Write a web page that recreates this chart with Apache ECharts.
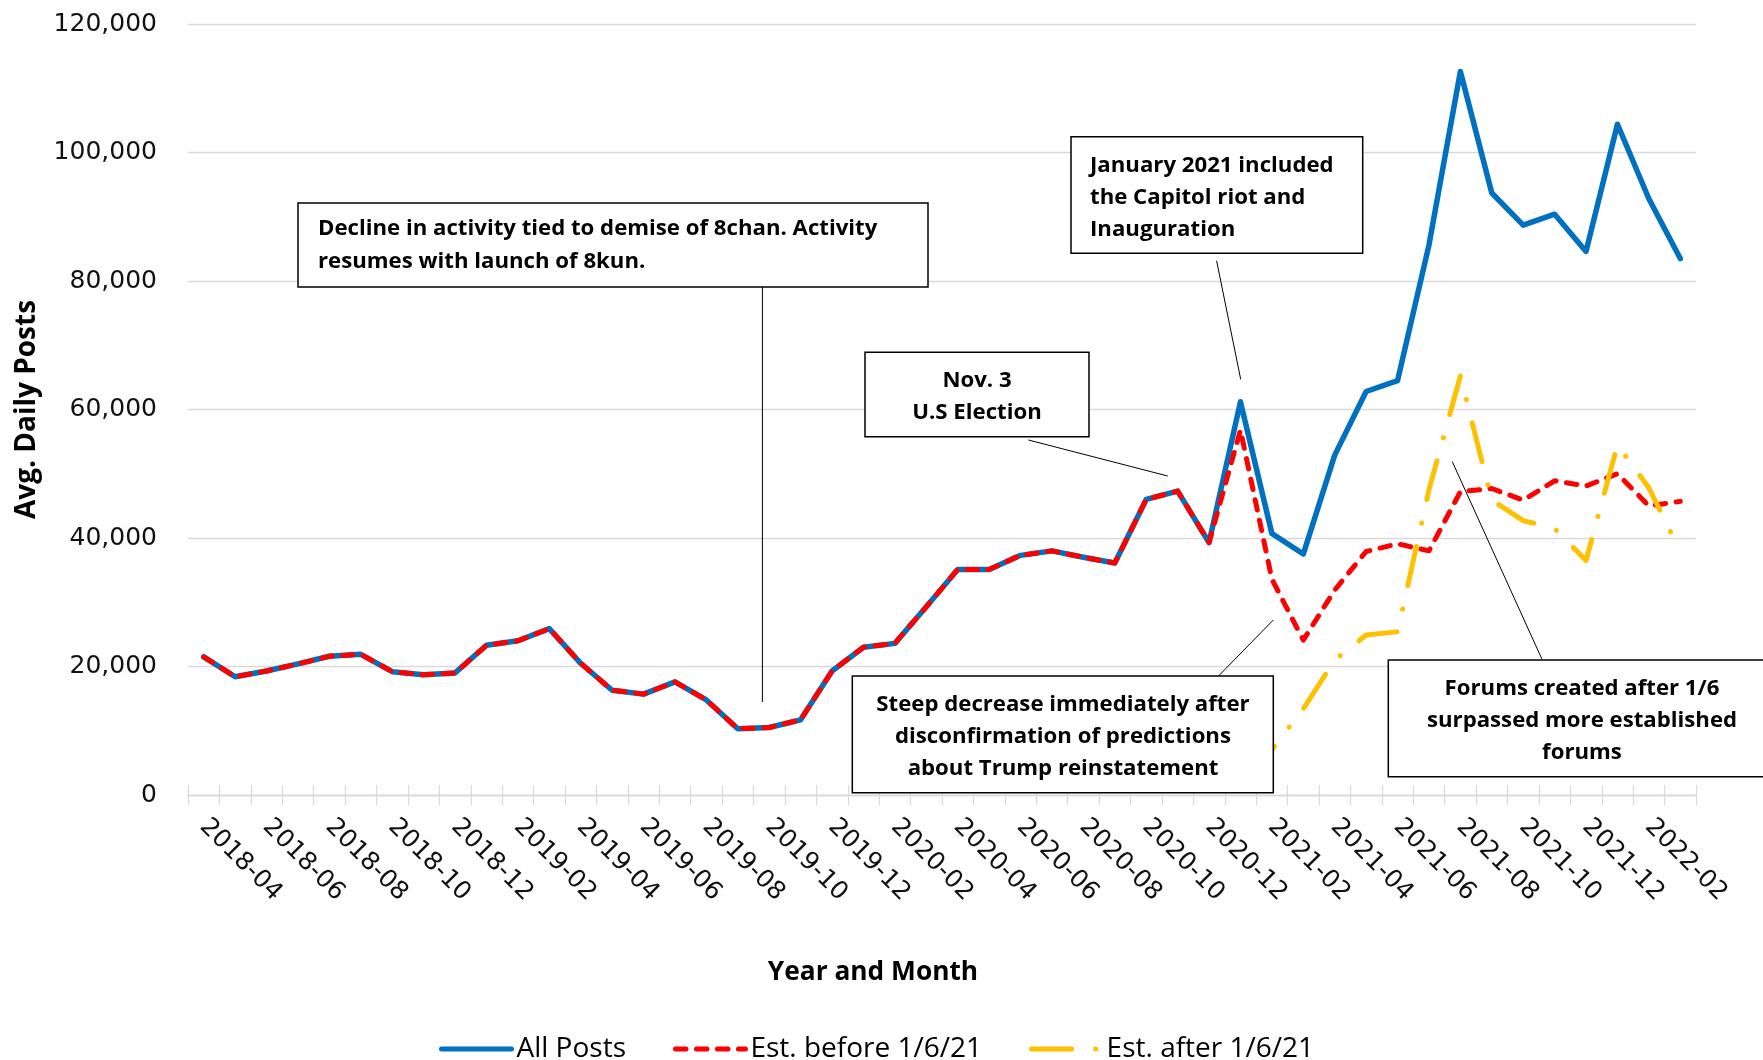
<!DOCTYPE html>
<html>
<head>
<meta charset="utf-8">
<title>Avg. Daily Posts</title>
<script src="https://cdn.jsdelivr.net/npm/echarts@6/dist/echarts.min.js"></script>
<style>
  html, body { margin: 0; padding: 0; background: #fff; }
  #chart { width: 1763px; height: 1060px; }
</style>
</head>
<body>
<div id="chart"></div>
<script>
// months on the category axis (labels shown every other month)
var months = [
  '2018-04', '2018-05', '2018-06', '2018-07', '2018-08', '2018-09', '2018-10', '2018-11', '2018-12',
  '2019-01', '2019-02', '2019-03', '2019-04', '2019-05', '2019-06', '2019-07', '2019-08', '2019-09',
  '2019-10', '2019-11', '2019-12', '2020-01', '2020-02', '2020-03', '2020-04', '2020-05', '2020-06',
  '2020-07', '2020-08', '2020-09', '2020-10', '2020-11', '2020-12', '2021-01', '2021-02', '2021-03',
  '2021-04', '2021-05', '2021-06', '2021-07', '2021-08', '2021-09', '2021-10', '2021-11', '2021-12',
  '2022-01', '2022-02', '2022-03'
];

var allPosts = [
  21500, 18400, 19300, 20400, 21600, 21900, 19200, 18700, 19000,
  23300, 24000, 25900, 20500, 16300, 15700, 17600, 14800, 10300,
  10500, 11700, 19300, 23000, 23600, 29300, 35100, 35100, 37300,
  38000, 37000, 36100, 46000, 47300, 39300, 61200, 40700, 37500,
  52900, 62800, 64500, 85600, 112600, 93700, 88700, 90400, 84600,
  104400, 92800, 83500
];

var estBefore = [
  21500, 18400, 19300, 20400, 21600, 21900, 19200, 18700, 19000,
  23300, 24000, 25900, 20500, 16300, 15700, 17600, 14800, 10300,
  10500, 11700, 19300, 23000, 23600, 29300, 35100, 35100, 37300,
  38000, 37000, 36100, 46000, 47300, 39300, 56800, 33600, 24100,
  31900, 37900, 39100, 38000, 47200, 47700, 45900, 48900, 48100,
  50000, 45000, 45700
];

var estAfter = [
  null, null, null, null, null, null, null, null, null,
  null, null, null, null, null, null, null, null, null,
  null, null, null, null, null, null, null, null, null,
  null, null, null, null, null, null, 4400, 7100, 13400,
  21000, 24900, 25400, 47500, 65200, 45900, 42700, 41500, 36500,
  54500, 47800, 37900
];

var yTicks = [0, 20000, 40000, 60000, 80000, 100000, 120000];

var boldFont = 'bold 22.2px "Open Sans"';

function box(x, y, w, h) {
  return {
    type: 'rect', z: 100,
    shape: { x: x, y: y, width: w, height: h },
    style: { fill: '#fff', stroke: '#000', lineWidth: 1.5 }
  };
}
function pointer(x1, y1, x2, y2) {
  return {
    type: 'line', z: 100,
    shape: { x1: x1, y1: y1, x2: x2, y2: y2 },
    style: { stroke: '#000', lineWidth: 1 }
  };
}
function note(x, y, txt, align, lh) {
  return {
    type: 'text', z: 101,
    style: {
      x: x, y: y, text: txt, font: boldFont, fill: '#000',
      align: align, verticalAlign: 'middle', lineHeight: lh
    }
  };
}

var chart = echarts.init(document.getElementById('chart'));
var option = {
  animation: false,
  backgroundColor: '#fff',
  grid: { left: 188, right: 67, top: 24, bottom: 265, outerBoundsMode: 'none' },
  legend: {
    left: 434, top: 1029,
    itemWidth: 70, itemHeight: 20, itemGap: 47,
    itemStyle: { opacity: 0, borderWidth: 0 },
    lineStyle: { width: 5 },
    textStyle: { fontFamily: 'Open Sans', fontSize: 28, color: '#000', lineHeight: 30 },
    data: ['All Posts', 'Est. before 1/6/21', 'Est. after 1/6/21']
  },
  xAxis: [{
    type: 'category',
    data: months,
    boundaryGap: true,
    name: 'Year and Month',
    nameLocation: 'middle',
    nameGap: 165,
    nameTextStyle: {
      fontFamily: 'Open Sans', fontWeight: 'bold', fontSize: 26.3, color: '#000',
      padding: [0, 138, 0, 0]
    },
    axisLine: { lineStyle: { color: '#d9d9d9', width: 1.3 } },
    axisTick: { show: true, interval: 0, length: 10, lineStyle: { color: '#d9d9d9', width: 1.3 } },
    axisLabel: {
      interval: 1, rotate: -45, margin: 28,
      fontFamily: 'DejaVu Sans', fontSize: 25, color: '#111'
    },
    splitLine: { show: false }
  }, {
    type: 'category',
    data: months,
    position: 'bottom',
    axisLine: { show: false },
    axisTick: { show: true, inside: true, interval: 0, length: 10, lineStyle: { color: '#d9d9d9', width: 1.3 } },
    axisLabel: { show: false },
    splitLine: { show: false }
  }],
  yAxis: {
    type: 'value',
    min: yTicks[0],
    max: yTicks[yTicks.length - 1],
    interval: yTicks[1] - yTicks[0],
    name: 'Avg. Daily Posts',
    nameLocation: 'middle',
    nameRotate: 90,
    nameGap: 147,
    nameTextStyle: { fontFamily: 'Open Sans', fontWeight: 'bold', fontSize: 28, color: '#000' },
    axisLine: { show: false },
    axisTick: { show: false },
    axisLabel: {
      margin: 31, fontFamily: 'DejaVu Sans', fontSize: 25, color: '#111',
      formatter: function (v) { return v.toLocaleString('en-US'); }
    },
    splitLine: { lineStyle: { color: '#d9d9d9', width: 1.3 } }
  },
  series: [{
    name: 'All Posts',
    type: 'line',
    data: allPosts,
    symbol: 'none',
    z: 2,
    lineStyle: { color: '#0070C0', width: 5.5, join: 'round', cap: 'round' },
    itemStyle: { color: '#0070C0' }
  }, {
    name: 'Est. before 1/6/21',
    type: 'line',
    data: estBefore,
    symbol: 'none',
    z: 3,
    lineStyle: { color: '#FF0000', width: 5, type: [10.5, 10.5], join: 'round', cap: 'round' },
    itemStyle: { color: '#FF0000' }
  }, {
    name: 'Est. after 1/6/21',
    type: 'line',
    data: estAfter,
    symbol: 'none',
    z: 4,
    connectNulls: false,
    lineStyle: { color: '#FFC000', width: 5, type: [40, 24, 0.1, 24], join: 'round', cap: 'round' },
    itemStyle: { color: '#FFC000' }
  }],
  graphic: [
    // Decline / 8kun
    pointer(762.4, 287, 762.4, 702),
    box(298, 203, 630, 84),
    note(318, 245, 'Decline in activity tied to demise of 8chan. Activity\nresumes with launch of 8kun.', 'left', 32.5),
    // January 2021
    pointer(1216.6, 260.7, 1240.7, 379.3),
    box(1071, 136.7, 291.7, 116.6),
    note(1090, 197.5, 'January 2021 included\nthe Capitol riot and\nInauguration', 'left', 32),
    // Nov. 3
    pointer(1028.4, 440, 1167.7, 476),
    box(865, 352.3, 224, 84.4),
    note(977, 396.5, 'Nov. 3\nU.S Election', 'center', 32),
    // Steep decrease
    pointer(1218.5, 676, 1273.3, 620),
    box(852.3, 676, 421, 116.7),
    note(1063, 737, 'Steep decrease immediately after\ndisconfirmation of predictions\nabout Trump reinstatement', 'center', 32),
    // Forums created after 1/6
    pointer(1452.3, 461.7, 1542, 659.3),
    box(1388.3, 660, 420, 116.7),
    note(1582, 720.7, 'Forums created after 1/6\nsurpassed more established\nforums', 'center', 32)
  ]
};
chart.setOption(option);
</script>
</body>
</html>
